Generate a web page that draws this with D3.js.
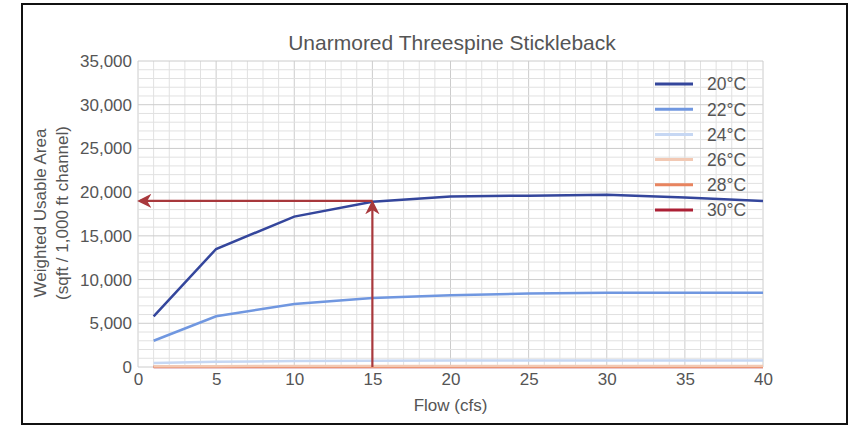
<!DOCTYPE html>
<html>
<head>
<meta charset="utf-8">
<script src="https://cdn.jsdelivr.net/npm/d3@7"></script>
<style>
  body { margin: 0; background: #fff; font-family: "Liberation Sans", Arial, sans-serif; }
  svg text { fill: #555; }
</style>
</head>
<body>
<div id="chart"></div>
<script>
// data
const flows = [1, 5, 10, 15, 20, 25, 30, 35, 40]
const temps = ['20°C', '22°C', '24°C', '26°C', '28°C', '30°C']
const wua20 = [5800, 13500, 17200, 18900, 19500, 19600, 19700, 19400, 19000]
const wua22 = [3000, 5800, 7200, 7900, 8200, 8400, 8500, 8500, 8500]
const wua24 = [450, 600, 680, 720, 740, 750, 750, 750, 750]
const wua26 = [80, 100, 110, 110, 110, 110, 110, 110, 110]
const wua28 = [20, 30, 30, 30, 30, 30, 30, 30, 30]
const wua30 = [0, 0, 0, 0, 0, 0, 0, 0, 0]
const colors = ['#34469c', '#7097e0', '#c6d7f3', '#f2c9b4', '#e8845f', '#ac2035']
const xTicks = [0, 5, 10, 15, 20, 25, 30, 35, 40]
const yTicks = [0, 5000, 10000, 15000, 20000, 25000, 30000, 35000]
const readFlow = 15
const readWua = 19000

const series = [wua20, wua22, wua24, wua26, wua28, wua30].map((vals, i) => ({
  name: temps[i], color: colors[i],
  values: vals.map((v, j) => ({ flow: flows[j], wua: v }))
}))

const width = 858, height = 428
const margin = {top: 61, right: 95, bottom: 61, left: 138}
const chartWidth = width - margin.left - margin.right
const chartHeight = height - margin.top - margin.bottom
const fontSize = '17px'

const svg = d3.select('#chart').append('svg')
  .attr('width', width).attr('height', height)

// outer frame
svg.append('rect')
  .attr('x', 22).attr('y', 4).attr('width', 825).attr('height', 420)
  .attr('fill', 'none').attr('stroke', '#111').attr('stroke-width', 2)

const x = d3.scaleLinear().domain([0, 40]).range([0, chartWidth])
const y = d3.scaleLinear().domain([0, 35000]).range([chartHeight, 0])

const g = svg.append('g').attr('transform', `translate(${margin.left}, ${margin.top})`)

// grid: minor every 1 cfs / 1,000, major on ticks
const grid = g.append('g').attr('class', 'grid')
grid.selectAll('.vminor').data(d3.range(0, 41))
  .enter().append('line')
  .attr('x1', d => x(d)).attr('x2', d => x(d))
  .attr('y1', 0).attr('y2', chartHeight)
  .attr('stroke', d => d % 5 === 0 ? '#cccccc' : '#e1e1e1')
  .attr('stroke-width', 1)
grid.selectAll('.hminor').data(d3.range(0, 35001, 1000))
  .enter().append('line')
  .attr('x1', 0).attr('x2', chartWidth)
  .attr('y1', d => y(d)).attr('y2', d => y(d))
  .attr('stroke', d => d % 5000 === 0 ? '#cccccc' : '#e1e1e1')
  .attr('stroke-width', 1)

// axes (labels only)
const xAxis = g.append('g').attr('class', 'xaxis')
  .attr('transform', `translate(0, ${chartHeight})`)
  .call(d3.axisBottom(x).tickValues(xTicks).tickSize(0).tickPadding(6))
xAxis.select('.domain').remove()
xAxis.selectAll('.tick text').style('font-size', fontSize).style('fill', '#555')

const yAxis = g.append('g').attr('class', 'yaxis')
  .call(d3.axisLeft(y).tickValues(yTicks).tickSize(0).tickPadding(6)
    .tickFormat(d3.format(',')))
yAxis.select('.domain').remove()
yAxis.selectAll('.tick text').style('font-size', fontSize).style('fill', '#555')

// lines
const line = d3.line()
  .x(d => x(d.flow))
  .y(d => y(d.wua))

g.append('g').attr('class', 'lines')
  .selectAll('path').data(series.slice().reverse())
  .enter().append('path')
  .attr('d', d => line(d.values))
  .attr('fill', 'none')
  .attr('stroke', d => d.color)
  .attr('stroke-width', 2.5)

// reading arrows
const arrowColor = '#a8383c'
svg.append('defs').append('marker')
  .attr('id', 'arrow')
  .attr('viewBox', '0 0 10 10')
  .attr('refX', 8).attr('refY', 5)
  .attr('markerWidth', 6.5).attr('markerHeight', 6.5)
  .attr('orient', 'auto')
  .append('path')
  .attr('d', 'M0,0 L10,5 L0,10 L3,5 Z')
  .attr('fill', arrowColor)

const arrows = g.append('g').attr('class', 'arrows')
arrows.append('line')
  .attr('x1', x(readFlow)).attr('x2', x(readFlow))
  .attr('y1', y(0)).attr('y2', y(readWua) + 2)
  .attr('stroke', arrowColor).attr('stroke-width', 2.2)
  .attr('marker-end', 'url(#arrow)')
arrows.append('line')
  .attr('x1', x(readFlow)).attr('x2', x(0) + 2)
  .attr('y1', y(readWua)).attr('y2', y(readWua))
  .attr('stroke', arrowColor).attr('stroke-width', 2.2)
  .attr('marker-end', 'url(#arrow)')

// legend
const legend = g.append('g').attr('class', 'legend')
  .attr('transform', `translate(${655 - margin.left}, ${84 - margin.top})`)
const item = legend.selectAll('.item').data(series)
  .enter().append('g')
  .attr('transform', (d, i) => `translate(0, ${i * 25.2})`)
item.append('line')
  .attr('x1', 0).attr('x2', 38)
  .attr('stroke', d => d.color).attr('stroke-width', 3)
item.append('text')
  .attr('x', 52).attr('dy', '0.36em')
  .style('font-size', '17.5px')
  .text(d => d.name)

// titles
svg.append('text')
  .attr('x', 452).attr('y', 50)
  .attr('text-anchor', 'middle')
  .style('font-size', '21px')
  .text('Unarmored Threespine Stickleback')

svg.append('text')
  .attr('x', margin.left + chartWidth / 2).attr('y', 411)
  .attr('text-anchor', 'middle')
  .style('font-size', fontSize)
  .text('Flow (cfs)')

const yl = svg.append('text')
  .attr('transform', `translate(46, 213) rotate(-90)`)
  .attr('text-anchor', 'middle')
  .style('font-size', fontSize)
yl.append('tspan').attr('x', 0).attr('dy', 0).text('Weighted Usable Area')
yl.append('tspan').attr('x', 0).attr('dy', '1.3em').text('(sqft / 1,000 ft channel)')
</script>
</body>
</html>
